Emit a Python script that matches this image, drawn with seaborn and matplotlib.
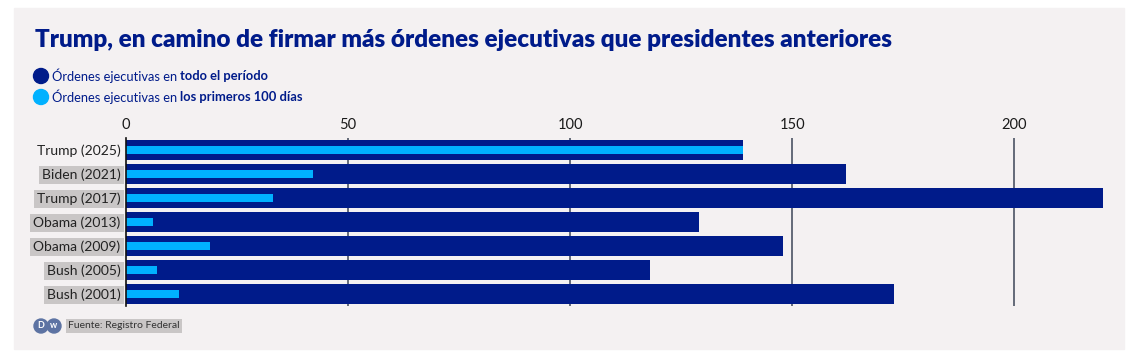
import matplotlib
matplotlib.use("Agg")
import matplotlib.pyplot as plt
import matplotlib.patches as mpatches
import seaborn as sns
import pandas as pd

# datos: ordenes ejecutivas por mandato
presidents = ["Trump (2025)", "Biden (2021)", "Trump (2017)", "Obama (2013)",
              "Obama (2009)", "Bush (2005)", "Bush (2001)"]
total_orders = [139, 162, 220, 129, 148, 118, 173]
first_100_days = [139, 42, 33, 6, 19, 7, 12]
x_ticks = [0, 50, 100, 150, 200]

DARK = "#001b8a"
LIGHT = "#00b1ff"
PANEL = "#f4f1f2"
LABEL_BG = "#c9c6c6"

sns.set_style("white")
plt.rcParams["font.family"] = ["Lato", "DejaVu Sans"]

df = pd.DataFrame({"president": presidents, "total": total_orders, "first100": first_100_days})

fig = plt.figure(figsize=(11.36, 3.57), dpi=100)
fig.patch.set_facecolor("white")
W, H = 1136, 357

# fondo gris claro
fig.patches.append(mpatches.Rectangle((14 / W, 8 / H), 1110 / W, 341 / H,
                                      transform=fig.transFigure, color=PANEL, zorder=-10))

ax = fig.add_axes([126 / W, (H - 306) / H, 986 / W, 168 / H])
ax.set_facecolor("none")

sns.barplot(data=df, x="total", y="president", color=DARK, width=0.83,
            saturation=1, linewidth=0, ax=ax, zorder=3)
sns.barplot(data=df, x="first100", y="president", color=LIGHT, width=0.33,
            saturation=1, linewidth=0, ax=ax, zorder=4)

ax.set_xlim(0, 222)
ax.set_ylim(6.5, -0.5)
ax.set_xticks(x_ticks)
ax.xaxis.tick_top()
ax.tick_params(axis="x", length=0, pad=4, labelsize=10.5, labelcolor="#1a1a1a")
ax.tick_params(axis="y", length=0, pad=4, labelsize=10, labelcolor="#222222")
ax.set_xlabel("")
ax.set_ylabel("")
for x in x_ticks[1:]:
    ax.axvline(x, color="#3d4557", lw=1.1, zorder=1)
for s in ["top", "right", "bottom"]:
    ax.spines[s].set_visible(False)
ax.spines["left"].set_color("#111111")
ax.spines["left"].set_linewidth(1.2)
ax.spines["left"].set_zorder(5)

for i, lab in enumerate(ax.get_yticklabels()):
    if i > 0:
        lab.set_bbox(dict(facecolor=LABEL_BG, edgecolor="none", pad=2.2))

# titulo
fig.text(35 / W, 1 - 40 / H, "Trump, en camino de firmar más órdenes ejecutivas que presidentes anteriores",
         fontsize=17.5, fontweight="heavy", color=DARK, va="center", ha="left")

# leyenda
for yy, col, bold in [(76, DARK, "todo el período"), (97, LIGHT, "los primeros 100 días")]:
    fig.patches.append(mpatches.Ellipse((41 / W, 1 - yy / H), 15 / W, 15 / H,
                                        transform=fig.transFigure, color=col))
    t = fig.text(52 / W, 1 - yy / H, "Órdenes ejecutivas en ", fontsize=9.3,
                 color=DARK, va="center", ha="left")
    fig.canvas.draw()
    bb = t.get_window_extent()
    fig.text(bb.x1 / W, 1 - yy / H, bold, fontsize=9.3, fontweight="bold",
             color=DARK, va="center", ha="left")

# fuente con logo DW
fig.patches.append(mpatches.Ellipse((41 / W, 1 - 326 / H), 14 / W, 14 / H,
                                    transform=fig.transFigure, color="#5d73a3"))
fig.patches.append(mpatches.Ellipse((54 / W, 1 - 326 / H), 14 / W, 14 / H,
                                    transform=fig.transFigure, color="#5d73a3"))
fig.text(41 / W, 1 - 326 / H, "D", fontsize=6.5, fontweight="bold", color="white",
         ha="center", va="center")
fig.text(54 / W, 1 - 326 / H, "w", fontsize=6.5, fontweight="bold", color="white",
         ha="center", va="center")
fig.text(68 / W, 1 - 326 / H, "Fuente: Registro Federal", fontsize=7.5, color="#333333",
         ha="left", va="center", bbox=dict(facecolor=LABEL_BG, edgecolor="none", pad=1.5))

fig.savefig("out.png", dpi=100, facecolor=fig.get_facecolor())
